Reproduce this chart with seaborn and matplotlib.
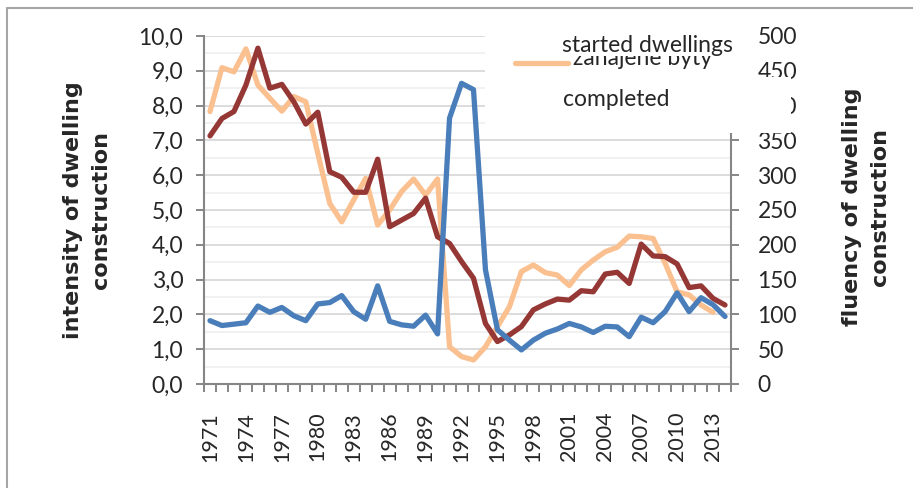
import numpy as np
import pandas as pd
import seaborn as sns
import matplotlib.pyplot as plt
from matplotlib.patches import Rectangle
from matplotlib.lines import Line2D
from matplotlib.ticker import FuncFormatter, MultipleLocator, FixedLocator, NullFormatter

# data (left axis: intensity, right axis: fluency)
years = list(range(1971, 2015))
started = [7.83, 9.09, 8.97, 9.63, 8.59, 8.21, 7.84, 8.26, 8.11, 6.63,
           5.19, 4.66, 5.29, 5.91, 4.57, 5.00, 5.53, 5.89, 5.43, 5.89,
           1.07, 0.79, 0.69, 1.07, 1.65, 2.22, 3.23, 3.42, 3.20, 3.13,
           2.83, 3.28, 3.56, 3.80, 3.93, 4.25, 4.23, 4.18, 3.47, 2.65,
           2.56, 2.27, 2.06, np.nan]
completed = [7.13, 7.63, 7.83, 8.59, 9.65, 8.50, 8.61, 8.11, 7.47, 7.81,
             6.10, 5.94, 5.51, 5.51, 6.46, 4.52, 4.71, 4.90, 5.34, 4.23,
             4.04, 3.52, 3.04, 1.74, 1.22, 1.41, 1.65, 2.13, 2.30, 2.44,
             2.41, 2.68, 2.65, 3.16, 3.21, 2.89, 4.02, 3.68, 3.66, 3.45,
             2.77, 2.82, 2.46, 2.27]
fluency = [91, 84, 86, 88, 112, 103, 110, 98, 91, 115,
           117, 127, 104, 93, 141, 90, 85, 83, 99, 72,
           382, 432, 423, 164, 78, 63, 49, 63, 73, 79,
           87, 82, 74, 83, 82, 68, 96, 88, 104, 131,
           104, 124, 114, 97]
label_years = list(range(1971, 2014, 3))

sns.set_style("white")
plt.rcParams['font.family'] = ['Lato', 'DejaVu Sans']

W, H = 913, 488
def fx(x):
    return x / W
def fy(y):
    return 1 - y / H

fig = plt.figure(figsize=(W / 100, H / 100), dpi=100)
ax = fig.add_axes([fx(204), fy(384), 527 / W, 348 / H])
ax2 = ax.twinx()

df = pd.DataFrame({'year': years, 'started': started,
                   'completed': completed, 'fluency': fluency})

lw = 3.8
sns.lineplot(data=df, x='year', y='started', ax=ax, color='#fac090', lw=lw, legend=False)
sns.lineplot(data=df, x='year', y='completed', ax=ax, color='#953735', lw=lw, legend=False)
sns.lineplot(data=df, x='year', y='fluency', ax=ax2, color='#4a7ebb', lw=lw, legend=False)

gray = '#868686'
ax.set_xlim(1970.5, 2014.5)
ax.set_ylim(0, 10)
ax2.set_ylim(0, 500)

ax.yaxis.set_major_locator(MultipleLocator(1))
ax.yaxis.set_minor_locator(MultipleLocator(0.5))
ax.yaxis.set_major_formatter(FuncFormatter(lambda v, p: f"{v:.1f}".replace('.', ',')))
ax.yaxis.grid(True, which='major', color='#d9d9d9', lw=1.3)
ax.yaxis.grid(True, which='minor', color='#f0f0f0', lw=1.3)
ax.set_axisbelow(True)

ax.xaxis.set_major_locator(FixedLocator(np.arange(1970.5, 2015, 1)))
ax.xaxis.set_major_formatter(NullFormatter())
ax.set_xticks(label_years, minor=True)
ax.set_xticklabels([str(y) for y in label_years], minor=True, rotation=90, fontsize=15.5)

ax.tick_params(axis='x', which='major', direction='out', length=6, width=1.4, color=gray, bottom=True)
ax.tick_params(axis='x', which='minor', length=0, pad=20, bottom=True)
ax.tick_params(axis='y', which='major', direction='out', length=6, width=1.4, color=gray,
               labelsize=16.5, pad=9, left=True)
ax.tick_params(axis='y', which='minor', length=0)

ax2.yaxis.set_major_locator(MultipleLocator(50))
ax2.tick_params(axis='y', direction='out', length=6, width=1.4, color=gray,
                labelsize=16.5, pad=13, right=True)

for a in (ax, ax2):
    a.set_xlabel('')
    a.set_ylabel('')
    for s in a.spines.values():
        s.set_visible(False)
ax.spines['left'].set_visible(True)
ax.spines['bottom'].set_visible(True)
ax2.spines['right'].set_visible(True)
for s in (ax.spines['left'], ax.spines['bottom'], ax2.spines['right']):
    s.set_color(gray)
    s.set_linewidth(1.5)

# axis titles
fig.text(fx(87), fy(210), 'intensity of dwelling\nconstruction', rotation=90,
         ha='center', va='center', ma='center', fontsize=16, fontweight='bold',
         family='DejaVu Sans', linespacing=1.5)
fig.text(fx(866), fy(207), 'fluency of dwelling\nconstruction', rotation=90,
         ha='center', va='center', ma='center', fontsize=16, fontweight='bold',
         family='DejaVu Sans', linespacing=1.45)

# legend box that sits over the top right corner
fig.add_artist(Rectangle((fx(485), fy(133)), 265 / W, 106 / H, transform=fig.transFigure,
                         facecolor='white', edgecolor='none', zorder=10))
fig.add_artist(Rectangle((fx(748), fy(133)), 43 / W, 56 / H, transform=fig.transFigure,
                         facecolor='white', edgecolor='none', zorder=10))
fig.add_artist(Line2D([fx(515), fx(568)], [fy(62.5), fy(62.5)], transform=fig.transFigure,
                      color='#fac090', lw=lw, zorder=11))
fig.text(fx(573), fy(65), 'zahajene byty', fontsize=16.5, va='baseline', zorder=11)
fig.text(fx(562), fy(52), 'started dwellings', fontsize=16.5, va='baseline', zorder=12,
         bbox=dict(facecolor='white', edgecolor='none', pad=0))
fig.text(fx(563), fy(106), 'completed', fontsize=16.5, va='baseline', zorder=12)

# outer frame
fig.add_artist(Line2D([fx(7), fx(7)], [fy(8), 0], transform=fig.transFigure, color='#a6a6a6', lw=1.5))
fig.add_artist(Line2D([fx(7), 1], [fy(8), fy(8)], transform=fig.transFigure, color='#a6a6a6', lw=1.5))

fig.savefig('out.png', dpi=100)
